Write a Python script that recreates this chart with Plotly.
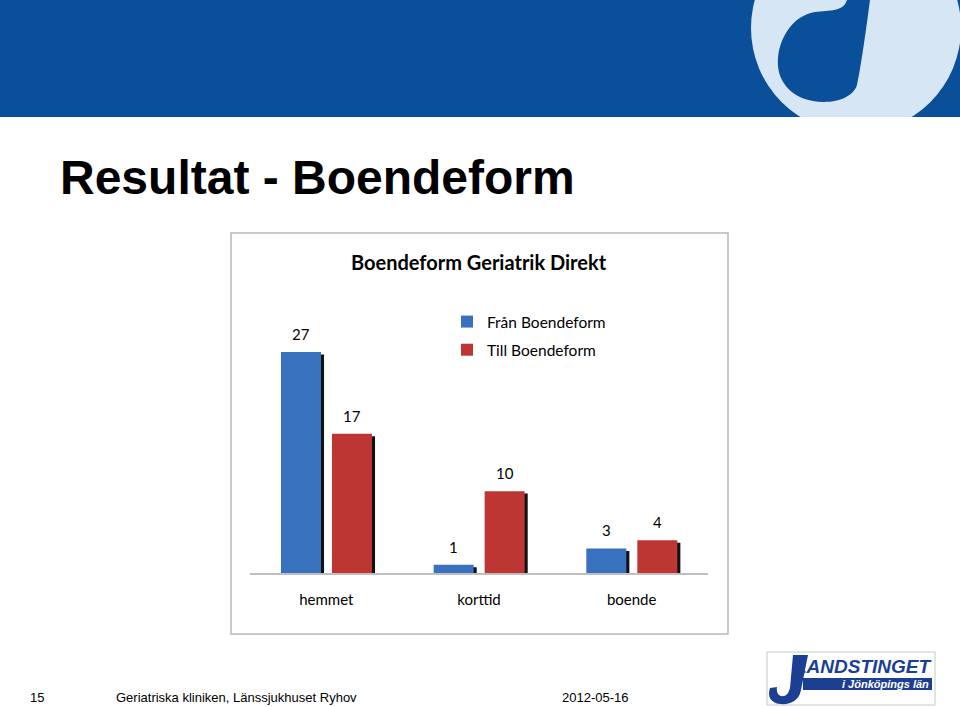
import plotly.graph_objects as go

W, H = 960, 707

categories = ["hemmet", "korttid", "boende"]
fran_values = [27, 1, 3]
till_values = [17, 10, 4]
series_names = ["Från Boendeform", "Till Boendeform"]
series_colors = ["#3872BE", "#BD3633"]

slide_title = "Resultat - Boendeform"
chart_title = "Boendeform Geriatrik Direkt"
footer_page = "15"
footer_text = "Geriatriska kliniken, Länssjukhuset Ryhov"
footer_date = "2012-05-16"


def px(x):
    return x / W


def py(y):
    return 1 - y / H


def path_from(coords, cmds):
    out = []
    i = 0
    for c in cmds:
        if c == "Z":
            out.append("Z")
            continue
        n = 3 if c == "C" else 1
        parts = []
        for (a, b) in coords[i:i + n]:
            parts.append(f"{px(a):.5f},{py(b):.5f}")
        i += n
        out.append(c + " " + " ".join(parts))
    return " ".join(out)


CH_FONT = "Lato, 'Open Sans', sans-serif"
AR_FONT = "'Liberation Sans', Arial, sans-serif"

# bar geometry in category units (category width = 1)
bar_w = 0.262
offsets = [-0.297, 0.037]
shadow_dx = 0.02

fig = go.Figure()

# shadows first
for vals, off in zip([fran_values, till_values], offsets):
    fig.add_trace(go.Bar(
        x=categories, y=[v - 0.3 for v in vals], offset=off + shadow_dx, width=bar_w,
        marker=dict(color="#111111", line=dict(width=0)), showlegend=False, hoverinfo="skip"))

for vals, off, name, col in zip([fran_values, till_values], offsets, series_names, series_colors):
    fig.add_trace(go.Bar(
        x=categories, y=vals, offset=off, width=bar_w, name=name, legendgroup=name,
        marker=dict(color=col, line=dict(width=0))))

# data labels
for vals, off in zip([fran_values, till_values], offsets):
    centre = (off + bar_w / 2) * (458 / 3)
    for c, v in zip(categories, vals):
        fig.add_annotation(x=c, y=v, text=str(v), showarrow=False, xshift=centre,
                           yanchor="bottom", yshift=7,
                           font=dict(family=CH_FONT, size=15, color="#000000"))

shapes = []
# banner
shapes.append(dict(type="rect", xref="paper", yref="paper", x0=0, x1=1, y0=py(117), y1=1,
                   fillcolor="#0A4F9A", line=dict(width=0), layer="below"))
# light circle
cx, cy, r = 856, 28, 105
shapes.append(dict(type="circle", xref="paper", yref="paper", x0=px(cx - r), x1=px(cx + r),
                   y0=py(cy + r), y1=py(cy - r), fillcolor="#D7E6F4", line=dict(width=0), layer="below"))
# dark inner d shape
d_coords = [(847, 0), (870, 0),
            (866, 30), (862, 60), (857, 85),
            (852, 100), (830, 104), (813, 101),
            (790, 97), (776, 80), (778, 58),
            (780, 35), (795, 15), (815, 12),
            (830, 10), (843, 12), (847, 0)]
shapes.append(dict(type="path", xref="paper", yref="paper",
                   path=path_from(d_coords, ["M", "L", "C", "C", "C", "C", "C", "Z"]),
                   fillcolor="#0A4F9A", line=dict(width=0), layer="below"))
# white cover below banner
shapes.append(dict(type="rect", xref="paper", yref="paper", x0=px(700), x1=1, y0=py(140), y1=py(117),
                   fillcolor="#FFFFFF", line=dict(width=0), layer="below"))
# chart box
shapes.append(dict(type="rect", xref="paper", yref="paper", x0=px(231), x1=px(728), y0=py(634), y1=py(233),
                   fillcolor="rgba(0,0,0,0)", line=dict(color="#B8B8B8", width=1.5), layer="below"))
# logo box
shapes.append(dict(type="rect", xref="paper", yref="paper", x0=px(767), x1=px(935), y0=py(705), y1=py(652),
                   fillcolor="#FFFFFF", line=dict(color="#C8C8C8", width=1), layer="below"))
shapes.append(dict(type="rect", xref="paper", yref="paper", x0=px(803), x1=px(932), y0=py(690), y1=py(678),
                   fillcolor="#1C3F93", line=dict(width=0), layer="below"))
# logo J
j_coords = [(793, 655), (808, 655), (801, 690),
            (799, 701), (790, 705), (780, 704),
            (771, 703), (767, 697), (770, 688),
            (777, 687),
            (776, 693), (779, 697), (784, 696),
            (788, 695), (789, 691), (790, 688)]
shapes.append(dict(type="path", xref="paper", yref="paper",
                   path=path_from(j_coords, ["M", "L", "L", "C", "C", "L", "C", "C", "Z"]),
                   fillcolor="#1C3F93", line=dict(width=0), layer="below"))

annotations = [
    dict(text=f"<b>{slide_title}</b>", x=px(58), y=py(177), xanchor="left", yanchor="middle",
         font=dict(family=AR_FONT, size=48, color="#000000")),
    dict(text=f"<b>{chart_title}</b>", x=px(479), y=py(262), xanchor="center", yanchor="middle",
         font=dict(family=CH_FONT, size=20, color="#000000")),
    dict(text=footer_page, x=px(28), y=py(697), xanchor="left", yanchor="middle",
         font=dict(family=AR_FONT, size=13, color="#000000")),
    dict(text=footer_text, x=px(114), y=py(697), xanchor="left", yanchor="middle",
         font=dict(family=AR_FONT, size=13, color="#000000")),
    dict(text=footer_date, x=px(560), y=py(697), xanchor="left", yanchor="middle",
         font=dict(family=AR_FONT, size=13, color="#000000")),
    dict(text="<b><i>LANDSTINGET</i></b>", x=px(934), y=py(666), xanchor="right", yanchor="middle",
         font=dict(family=AR_FONT, size=19, color="#1C3F93")),
    dict(text="<b><i>i Jönköpings län</i></b>", x=px(931), y=py(684), xanchor="right", yanchor="middle",
         font=dict(family=AR_FONT, size=11, color="#FFFFFF")),
]
for a in annotations:
    a.update(xref="paper", yref="paper", showarrow=False)
    fig.add_annotation(**a)

fig.update_layout(
    width=W, height=H, margin=dict(l=0, r=0, t=0, b=0),
    paper_bgcolor="#FFFFFF", plot_bgcolor="rgba(0,0,0,0)",
    barmode="overlay", shapes=shapes,
    xaxis=dict(domain=[px(250), px(708)], showline=True, linecolor="#BFBFBF", linewidth=1.5,
               showgrid=False, zeroline=False, ticks="outside", ticklen=12, tickcolor="rgba(0,0,0,0)",
               tickfont=dict(family=CH_FONT, size=15, color="#000000"), fixedrange=True),
    yaxis=dict(domain=[py(573), py(300)], range=[0, 33.35], visible=False, fixedrange=True),
    legend=dict(x=px(447), y=py(305), xanchor="left", yanchor="top", bgcolor="rgba(0,0,0,0)",
                font=dict(family=CH_FONT, size=15.5, color="#000000"), tracegroupgap=5,
                traceorder="grouped"),
    showlegend=True,
)

fig.write_html("out.html")
